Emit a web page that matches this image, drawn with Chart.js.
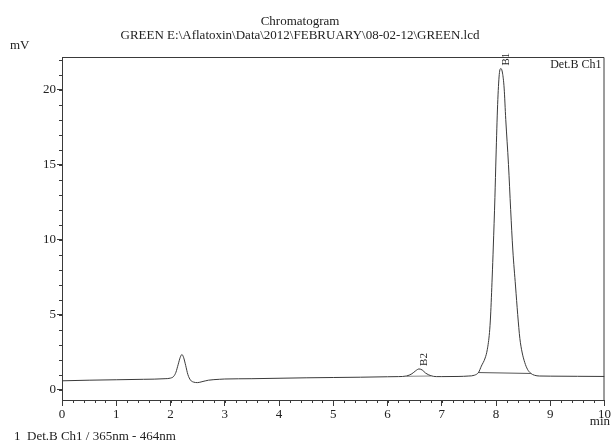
<!DOCTYPE html>
<html>
<head>
<meta charset="utf-8">
<script src="https://cdn.jsdelivr.net/npm/chart.js@4"></script>
<style>
  html, body { margin: 0; padding: 0; background: #fff; }
  #wrap { width: 612px; height: 441px; position: relative; }
</style>
</head>
<body>
<div id="wrap"><canvas id="chrom"></canvas></div>
<script>
// retention time (min) and signal (mV)
const times = [0, 0.5, 1, 1.5, 1.9, 2.0, 2.06, 2.1, 2.14, 2.18, 2.21, 2.24, 2.28, 2.32, 2.37, 2.42, 2.5, 2.58, 2.7, 2.9,
  3, 3.5, 4, 4.5, 5, 5.5, 6, 6.2, 6.35, 6.45, 6.52, 6.58, 6.64, 6.7, 6.8, 6.9, 7.0, 7.3, 7.5, 7.6, 7.68, 7.73,
  7.8, 7.84, 7.88, 7.9, 7.93, 7.95, 7.98, 8.0, 8.03, 8.06, 8.09, 8.12, 8.15, 8.18, 8.23, 8.27, 8.31, 8.36, 8.4,
  8.44, 8.48, 8.53, 8.58, 8.64, 8.71, 8.8, 9, 9.5, 10];
const signal = [0.58, 0.62, 0.65, 0.68, 0.72, 0.76, 0.88, 1.15, 1.65, 2.15, 2.33, 2.15, 1.6, 1.0, 0.62, 0.5, 0.46, 0.52, 0.62, 0.68,
  0.7, 0.72, 0.75, 0.78, 0.8, 0.82, 0.85, 0.86, 0.9, 1.05, 1.25, 1.37, 1.3, 1.1, 0.92, 0.86, 0.86, 0.87, 0.9, 0.95, 1.15, 1.56,
  2.1, 2.67, 3.8, 4.9, 7.5, 9.5, 12.8, 15.5, 19.0, 21.0, 21.4, 21.1, 20.1, 18.0, 15.0, 12.0, 9.3, 6.9, 5.0,
  3.4, 2.5, 1.8, 1.35, 1.08, 0.95, 0.9, 0.89, 0.88, 0.87];

// integration baselines drawn under the named peaks
const b1Base = [{ x: 7.67, y: 1.13 }, { x: 8.64, y: 1.07 }];
const b2Base = [{ x: 6.35, y: 0.88 }, { x: 6.8, y: 0.9 }];

const peakNames = ['B2', 'B1'];
const peakTimes = [6.58, 8.09];
const peakHeights = [1.37, 21.4];

const xTicks = [0, 1, 2, 3, 4, 5, 6, 7, 8, 9, 10];
const yTicks = [0, 5, 10, 15, 20];

const serif = '"Liberation Serif", "DejaVu Serif", serif';
const ink = '#3a3a3a';

let points = times.map((t, i) => ({ x: t, y: signal[i] }));

// extra lines, minor ticks and labels that chart.js does not draw itself
const printoutPlugin = {
  id: 'printout',
  afterDraw(chart) {
    const ctx = chart.ctx;
    const a = chart.chartArea;
    const xs = chart.scales.x;
    const ys = chart.scales.y;
    ctx.save();
    ctx.strokeStyle = ink;
    ctx.lineWidth = 1;

    // frame top and right
    ctx.beginPath();
    ctx.moveTo(a.left, a.top + 0.5);
    ctx.lineTo(a.right - 0.5, a.top + 0.5);
    ctx.lineTo(a.right - 0.5, a.bottom);
    ctx.stroke();

    // minor ticks
    ctx.beginPath();
    for (let v = 0; v <= 10.001; v += 0.2) {
      const px = Math.round(xs.getPixelForValue(v)) + 0.5;
      ctx.moveTo(px, a.bottom);
      ctx.lineTo(px, a.bottom + 3);
    }
    for (let v = 0; v <= 22; v += 1) {
      const py = Math.round(ys.getPixelForValue(v)) + 0.5;
      ctx.moveTo(a.left, py);
      ctx.lineTo(a.left - 3, py);
    }
    ctx.stroke();

    ctx.fillStyle = '#222';
    ctx.font = '13px ' + serif;
    ctx.textAlign = 'center';
    ctx.textBaseline = 'alphabetic';
    ctx.fillText('Chromatogram', 300, 25);
    ctx.fillText('GREEN E:\\Aflatoxin\\Data\\2012\\FEBRUARY\\08-02-12\\GREEN.lcd', 300, 39);

    ctx.textAlign = 'left';
    ctx.fillText('mV', 10, 49);
    ctx.fillText('1  Det.B Ch1 / 365nm - 464nm', 14, 440);
    ctx.textAlign = 'right';
    ctx.fillText('min', 610, 425);
    ctx.font = '12px ' + serif;
    ctx.fillText('Det.B Ch1', a.right - 3, a.top + 11);

    // rotated peak names
    ctx.font = '11px ' + serif;
    peakNames.forEach((name, i) => {
      const px = xs.getPixelForValue(peakTimes[i]);
      const py = ys.getPixelForValue(peakHeights[i]);
      ctx.save();
      ctx.translate(px + 5, py - 3);
      ctx.rotate(-Math.PI / 2);
      ctx.textAlign = 'left';
      ctx.textBaseline = 'middle';
      ctx.fillText(name, 0, 0);
      ctx.restore();
    });
    ctx.restore();
  }
};

const chart = new Chart(document.getElementById('chrom'), {
  type: 'line',
  data: {
    datasets: [
      {
        data: points,
        borderColor: ink,
        borderWidth: 1,
        pointRadius: 0,
        cubicInterpolationMode: 'monotone',
        fill: false
      },
      {
        data: b1Base,
        borderColor: '#555',
        borderWidth: 1,
        pointRadius: 0
      },
      {
        data: b2Base,
        borderColor: '#888',
        borderWidth: 1,
        pointRadius: 0
      }
    ]
  },
  options: {
    responsive: true,
    maintainAspectRatio: false,
    animation: false,
    layout: { padding: { top: 57, right: 4, left: 0, bottom: 0 } },
    plugins: {
      legend: { display: false },
      tooltip: { enabled: false }
    },
    scales: {
      x: {
        type: 'linear',
        min: 0,
        max: 10,
        afterFit: s => { s.height = 41; },
        afterBuildTicks: s => { s.ticks = xTicks.map(v => ({ value: v })); },
        border: { color: ink, width: 1 },
        grid: { drawOnChartArea: false, tickLength: 6, color: ink },
        ticks: { color: '#222', font: { family: serif, size: 13 }, padding: 1, maxRotation: 0 }
      },
      y: {
        type: 'linear',
        min: -0.7,
        max: 22.17,
        afterFit: s => { s.width = 62; },
        afterBuildTicks: s => { s.ticks = yTicks.map(v => ({ value: v })); },
        border: { color: ink, width: 1 },
        grid: { drawOnChartArea: false, tickLength: 5, color: ink },
        ticks: { color: '#222', font: { family: serif, size: 13 }, padding: 1 }
      }
    }
  },
  plugins: [printoutPlugin]
});
</script>
</body>
</html>
